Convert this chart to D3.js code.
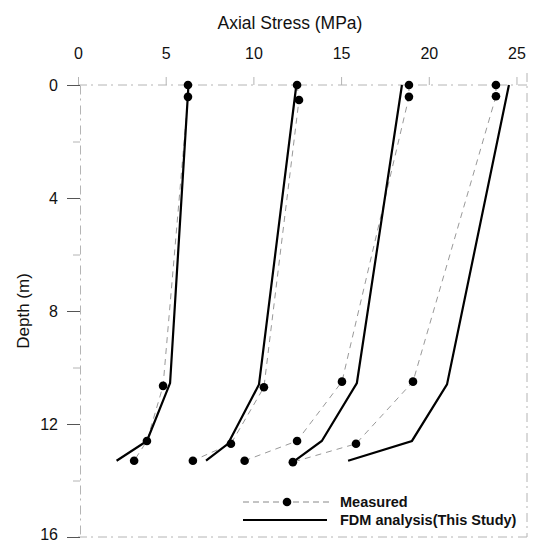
<!DOCTYPE html>
<html>
<head>
<meta charset="utf-8">
<script src="https://cdn.jsdelivr.net/npm/d3@7"></script>
<style>
  html, body { margin: 0; padding: 0; background: #fff; }
  svg { display: block; font-family: Arial, "Liberation Sans", Helvetica, sans-serif; }
</style>
</head>
<body>
<svg id="chart" width="536" height="544"></svg>
<script>
// Axial stress along the pile at four load levels: measured vs. FDM analysis
const xTicks = [0, 5, 10, 15, 20, 25];
const yTicks = [0, 4, 8, 12, 16];
const yMinorTicks = [2, 6, 10, 14];

// Measured (strain gauge) values: depth in m, stress in MPa
const measuredDepth1 = [0, 0.42, 10.65, 12.6, 13.3];
const measuredStress1 = [6.27, 6.27, 4.85, 3.93, 3.2];
const measuredDepth2 = [0, 0.53, 10.7, 12.7, 13.3];
const measuredStress2 = [12.49, 12.6, 10.6, 8.72, 6.55];
const measuredDepth3 = [0, 0.42, 10.5, 12.6, 13.3];
const measuredStress3 = [18.87, 18.87, 15.05, 12.49, 9.5];
const measuredDepth4 = [0, 0.4, 10.5, 12.7, 13.35];
const measuredStress4 = [23.83, 23.83, 19.1, 15.85, 12.25];

// FDM analysis results
const fdmDepth1 = [0, 10.55, 12.6, 13.3];
const fdmStress1 = [6.3, 5.25, 3.93, 2.2];
const fdmDepth2 = [0, 10.6, 12.7, 13.3];
const fdmStress2 = [12.45, 10.32, 8.55, 7.3];
const fdmDepth3 = [0, 10.55, 12.6, 13.35];
const fdmStress3 = [18.47, 15.9, 13.9, 12.25];
const fdmDepth4 = [0, 10.6, 12.6, 13.3];
const fdmStress4 = [24.57, 21.04, 19.04, 15.4];

const legendLabels = ["Measured", "FDM analysis(This Study)"];

const zip = (s, d) => s.map((v, i) => ({ s: v, d: d[i] }));
const measured = [
  zip(measuredStress1, measuredDepth1),
  zip(measuredStress2, measuredDepth2),
  zip(measuredStress3, measuredDepth3),
  zip(measuredStress4, measuredDepth4)
];
const fdm = [
  zip(fdmStress1, fdmDepth1),
  zip(fdmStress2, fdmDepth2),
  zip(fdmStress3, fdmDepth3),
  zip(fdmStress4, fdmDepth4)
];

const svg = d3.select("#chart");
const x = d3.scaleLinear().domain([0, 25.6]).range([78, 527]);
const y = d3.scaleLinear().domain([0, 16]).range([85, 537]);

const frameColor = "#b4b4b4";
const frameDash = "9,4,2,5";
const frame = svg.append("g")
  .attr("fill", "none")
  .attr("stroke", frameColor)
  .attr("stroke-width", 1)
  .attr("stroke-dasharray", frameDash);

// Plot frame (top, right, bottom)
frame.append("line").attr("x1", x(0)).attr("x2", x(25.6)).attr("y1", y(0)).attr("y2", y(0));
frame.append("line").attr("x1", x(25.6)).attr("x2", x(25.6)).attr("y1", y(0) - 12).attr("y2", y(16));
frame.append("line").attr("x1", x(0)).attr("x2", x(25.6)).attr("y1", y(16)).attr("y2", y(16));

// Top axis (stress)
const xAxis = d3.axisTop(x).tickValues(xTicks).tickSize(8).tickSizeOuter(0);
const gx = svg.append("g").attr("transform", `translate(0,${y(0)})`).call(xAxis);
gx.select(".domain").remove();
gx.selectAll(".tick line").attr("stroke", frameColor);
gx.selectAll(".tick text")
  .attr("y", -26)
  .attr("font-size", 16)
  .attr("fill", "#111")
  .attr("font-family", "Arial, 'Liberation Sans', sans-serif");

// Left axis (depth)
const yAxis = d3.axisLeft(y).tickValues(yTicks).tickSize(13).tickPadding(9).tickSizeOuter(0);
const gy = svg.append("g").attr("transform", `translate(${x(0) + 2},0)`).call(yAxis);
gy.select(".domain").attr("stroke", frameColor).attr("stroke-dasharray", frameDash);
gy.selectAll(".tick line").attr("stroke", "#555");
gy.selectAll(".tick text")
  .attr("font-size", 16)
  .attr("fill", "#111")
  .attr("font-family", "Arial, 'Liberation Sans', sans-serif")
  .attr("dy", d => d === 16 ? "0.18em" : "0.32em");

const gyMinor = svg.append("g").attr("transform", `translate(${x(0) + 2},0)`)
  .call(d3.axisLeft(y).tickValues(yMinorTicks).tickSize(7).tickFormat(""));
gyMinor.select(".domain").remove();
gyMinor.selectAll(".tick line").attr("stroke", frameColor);

// Axis titles
svg.append("text")
  .attr("x", 290).attr("y", 29)
  .attr("text-anchor", "middle")
  .attr("font-size", 17.5)
  .attr("fill", "#111")
  .text("Axial Stress (MPa)");

svg.append("text")
  .attr("transform", `translate(29,${y(8)}) rotate(-90)`)
  .attr("text-anchor", "middle")
  .attr("font-size", 17)
  .attr("fill", "#111")
  .text("Depth (m)");

const line = d3.line().x(p => x(p.s)).y(p => y(p.d));

// Measured: thin grey dashed lines with filled circles
svg.append("g").selectAll("path").data(measured).join("path")
  .attr("d", line)
  .attr("fill", "none")
  .attr("stroke", "#999")
  .attr("stroke-width", 1)
  .attr("stroke-dasharray", "6,5");

// FDM: solid black lines
svg.append("g").selectAll("path").data(fdm).join("path")
  .attr("d", line)
  .attr("fill", "none")
  .attr("stroke", "#000")
  .attr("stroke-width", 2.2)
  .attr("stroke-linejoin", "miter");

svg.append("g").selectAll("circle").data(measured.flat()).join("circle")
  .attr("cx", p => x(p.s))
  .attr("cy", p => y(p.d))
  .attr("r", 4.3)
  .attr("fill", "#000");

// Legend
const lg = svg.append("g");
lg.append("line")
  .attr("x1", 243).attr("x2", 332).attr("y1", 502).attr("y2", 502)
  .attr("stroke", "#888").attr("stroke-width", 1).attr("stroke-dasharray", "6,4");
lg.append("circle").attr("cx", 287).attr("cy", 502).attr("r", 4.3).attr("fill", "#000");
lg.append("line")
  .attr("x1", 243).attr("x2", 327).attr("y1", 520).attr("y2", 520)
  .attr("stroke", "#000").attr("stroke-width", 2);
lg.selectAll("text").data(legendLabels).join("text")
  .attr("x", 340)
  .attr("y", (d, i) => 507 + i * 18)
  .attr("font-size", 14.5)
  .attr("font-weight", "bold")
  .attr("fill", "#111")
  .text(d => d);
</script>
</body>
</html>
